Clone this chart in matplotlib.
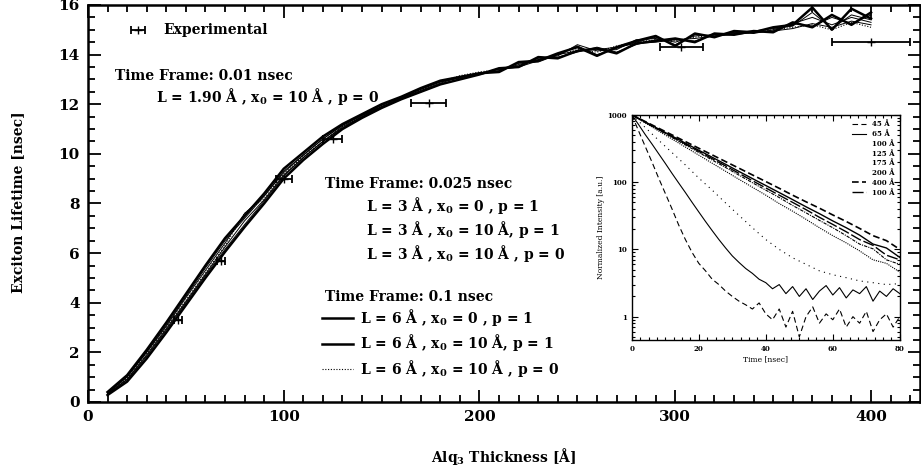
import matplotlib
matplotlib.use("Agg")
import matplotlib.pyplot as plt
from matplotlib.lines import Line2D
from matplotlib.ticker import MultipleLocator, LogLocator, NullFormatter, FixedLocator

plt.rcParams["font.family"] = ["DejaVu Serif"]
plt.rcParams["font.weight"] = "bold"
plt.rcParams["mathtext.fontset"] = "dejavuserif"

# simulated lifetimes vs. thickness (Angstrom -> nsec)
thickness = list(range(10, 401, 10))

tf001_l190 = [0.35, 1.0, 2.0, 3.05, 4.2, 5.3, 6.4, 7.6, 8.3, 9.25, 9.95, 10.6, 11.15, 11.55,
              11.9, 12.25, 12.6, 12.9, 13.1, 13.2, 13.35, 13.6, 13.8, 13.95, 14.4, 14.15,
              14.2, 14.6, 14.65, 14.5, 14.75, 14.8, 14.9, 14.85, 15.0, 15.25, 15.5, 15.2,
              15.5, 15.3]
tf0025_x0_p1 = [0.38, 1.02, 2.02, 3.1, 4.25, 5.4, 6.5, 7.4, 8.3, 9.3, 9.95, 10.6, 11.15,
                11.55, 11.95, 12.3, 12.6, 12.9, 13.05, 13.25, 13.35, 13.65, 13.7, 14.0,
                14.35, 14.0, 14.25, 14.5, 14.7, 14.4, 14.8, 14.75, 14.9, 14.95, 15.05,
                15.15, 15.7, 15.05, 15.6, 15.4]
tf0025_x10_p1 = [0.32, 0.9, 1.85, 2.9, 4.0, 5.1, 6.15, 7.15, 8.1, 9.1, 9.85, 10.5, 11.05,
                 11.5, 11.9, 12.2, 12.5, 12.8, 13.0, 13.2, 13.45, 13.55, 13.85, 13.9, 14.1,
                 14.3, 14.1, 14.4, 14.6, 14.6, 14.55, 14.8, 14.85, 14.9, 14.95, 15.25,
                 15.15, 15.5, 15.25, 15.6]
tf0025_x10_p0 = [0.33, 0.92, 1.9, 2.95, 4.05, 5.15, 6.25, 7.3, 8.15, 9.15, 9.85, 10.5, 11.1,
                 11.5, 11.9, 12.25, 12.55, 12.85, 13.1, 13.25, 13.4, 13.5, 13.75, 14.0,
                 14.15, 14.2, 14.3, 14.45, 14.5, 14.6, 14.65, 14.75, 14.8, 14.9, 14.95,
                 15.05, 15.25, 15.1, 15.35, 15.2]
tf01_x0_p1 = [0.40, 1.08, 2.1, 3.2, 4.35, 5.5, 6.6, 7.5, 8.4, 9.4, 10.05, 10.7, 11.2,
              11.6, 12.0, 12.3, 12.65, 12.95, 13.1, 13.25, 13.3, 13.7, 13.75, 14.05, 14.3,
              13.95, 14.3, 14.55, 14.75, 14.35, 14.85, 14.7, 14.95, 14.9, 15.1, 15.2, 15.9,
              15.0, 15.85, 15.45]
tf01_x10_p1 = [0.28, 0.82, 1.75, 2.8, 3.9, 5.0, 6.05, 7.05, 8.0, 9.0, 9.75, 10.4,
               11.0, 11.45, 11.85, 12.2, 12.5, 12.8, 13.0, 13.2, 13.45, 13.5, 13.9, 13.85,
               14.15, 14.25, 14.05, 14.45, 14.55, 14.65, 14.5, 14.85, 14.8, 14.95, 14.9,
               15.3, 15.1, 15.6, 15.2, 15.7]
tf01_x10_p0 = [0.35, 0.95, 1.95, 3.0, 4.1, 5.2, 6.3, 7.6, 8.2, 9.2, 9.9, 10.5, 11.1, 11.5,
               11.95, 12.25, 12.55, 12.9, 13.15, 13.3, 13.4, 13.55, 13.8, 14.0, 14.2, 14.1,
               14.35, 14.5, 14.6, 14.55, 14.7, 14.8, 14.85, 14.9, 15.0, 15.1, 15.2, 15.0,
               15.3, 15.1]

# measured lifetimes with thickness uncertainty
exp_thickness = [46, 68, 100, 125, 174, 303, 400]
exp_lifetime = [3.3, 5.7, 9.0, 10.6, 12.05, 14.3, 14.5]
exp_thickness_err = [2, 2, 4, 5, 9, 11, 20]

# transient PL decays for the inset
t_fine = list(range(0, 81, 2))
t_coarse = list(range(0, 81, 4))
pl_45 = [1000, 580, 340, 200, 115, 68, 40, 23, 14, 9, 6.2, 4.8, 3.6, 3.0, 2.4, 2.0, 1.7, 1.5,
         1.3, 1.6, 1.1, 0.9, 1.3, 0.7, 1.2, 0.5, 1.0, 1.4, 0.8, 1.1, 0.9, 1.3, 0.7, 1.0, 0.8,
         1.2, 0.6, 0.9, 1.1, 0.7, 1.0]
pl_65 = [1000, 720, 510, 370, 265, 190, 135, 97, 70, 50, 36, 26, 19, 14, 10.5, 8.0, 6.4,
         5.2, 4.4, 3.6, 3.2, 2.6, 3.0, 2.2, 2.8, 2.0, 2.6, 1.8, 2.4, 2.9, 2.1, 2.7, 1.9, 2.5,
         2.2, 2.8, 1.7, 2.4, 2.0, 2.6, 2.2]
pl_100 = [1000, 650, 420, 275, 180, 115, 76, 49, 32, 21, 14, 10, 7.5, 6.0, 4.8, 4.2, 3.8,
          3.4, 3.2, 3.0, 3.1]
pl_125 = [1000, 760, 575, 437, 332, 252, 191, 145, 110, 84, 64, 48, 37, 28, 21, 16, 12.5,
          9.5, 7.0, 6.2, 4.6]
pl_175 = [1000, 773, 597, 462, 357, 276, 213, 165, 127, 98, 76, 59, 45, 35, 27, 21, 16,
          12.0, 10.2, 7.0, 6.0]
pl_200 = [1000, 785, 616, 484, 380, 298, 234, 184, 144, 113, 89, 70, 55, 43, 34, 26.5, 21,
          16.3, 12.0, 10.5, 7.6]
pl_400 = [1000, 796, 633, 504, 401, 319, 254, 202, 161, 128, 102, 81, 64, 51, 41, 32.5, 26,
          20.5, 16.0, 13.5, 10.0]
pl_last = [1000, 779, 607, 472, 368, 287, 223, 174, 135, 105, 82, 64, 50, 39, 30, 23.5,
           18.3, 14.0, 11.5, 8.2, 7.0]
pl_labels = ["45 Å", "65 Å", "100 Å", "125 Å", "175 Å", "200 Å", "400 Å", "100 Å"]

fig = plt.figure(figsize=(9.21, 4.70), dpi=100)
ax = fig.add_axes([0.0955, 0.1447, 0.9034, 0.8447])

thin = dict(color="black", linewidth=0.7)
ax.plot(thickness, tf001_l190, **thin)
ax.plot(thickness, tf0025_x0_p1, **thin)
ax.plot(thickness, tf0025_x10_p1, **thin)
ax.plot(thickness, tf0025_x10_p0, **thin)
h1, = ax.plot(thickness, tf01_x0_p1, color="black", linewidth=1.8)
h2, = ax.plot(thickness, tf01_x10_p1, color="black", linewidth=1.8)
h3, = ax.plot(thickness, tf01_x10_p0, color="black", linewidth=0.8, linestyle=(0, (1, 1.5)))

hexp = ax.errorbar(exp_thickness, exp_lifetime, xerr=exp_thickness_err, fmt="+",
                   color="black", markersize=6, elinewidth=1.3, capsize=3, capthick=1.3)

ax.set_xlim(0, 425)
ax.set_ylim(0, 16)
ax.xaxis.set_major_locator(MultipleLocator(100))
ax.xaxis.set_minor_locator(MultipleLocator(10))
ax.yaxis.set_major_locator(MultipleLocator(2))
ax.yaxis.set_minor_locator(MultipleLocator(0.5))
ax.tick_params(which="both", direction="in", top=True, right=True, width=1.3)
ax.tick_params(which="major", length=9)
ax.tick_params(which="minor", length=5)
ax.tick_params(axis="both", labelsize=11, pad=6)
for spine in ax.spines.values():
    spine.set_linewidth(1.8)

ax.set_xlabel(r"Alq$_\mathbf{3}$ Thickness [Å]", fontsize=10, fontweight="bold")
ax.xaxis.set_label_coords(0.5, -0.11)
fig.text(0.02, 0.57, "Exciton Lifetime [nsec]", rotation=90, ha="center", va="center",
         fontsize=10, fontweight="bold")

leg_exp = ax.legend([hexp], ["Experimental"], loc="upper left", bbox_to_anchor=(0.035, 0.985),
                    frameon=False, fontsize=10, handlelength=1.2, handletextpad=1.2)
ax.add_artist(leg_exp)

txt = dict(fontsize=10, fontweight="bold", va="center", ha="left")
ax.text(14, 13.15, "Time Frame: 0.01 nsec", **txt)
ax.text(35, 12.3, r"L = 1.90 Å , x$_\mathbf{0}$ = 10 Å , p = 0", **txt)

ax.text(121, 8.8, "Time Frame: 0.025 nsec", **txt)
ax.text(142, 7.9, r"L = 3 Å , x$_\mathbf{0}$ = 0 , p = 1", **txt)
ax.text(142, 6.95, r"L = 3 Å , x$_\mathbf{0}$ = 10 Å, p = 1", **txt)
ax.text(142, 6.0, r"L = 3 Å , x$_\mathbf{0}$ = 10 Å , p = 0", **txt)
ax.text(121, 4.25, "Time Frame: 0.1 nsec", **txt)

ax.legend([h1, h2, h3],
          [r"L = 6 Å , x$_\mathbf{0}$ = 0 , p = 1",
           r"L = 6 Å , x$_\mathbf{0}$ = 10 Å, p = 1",
           r"L = 6 Å , x$_\mathbf{0}$ = 10 Å , p = 0"],
          loc="upper left", bbox_to_anchor=(0.27, 0.265), frameon=False, fontsize=10,
          handlelength=2.2, handletextpad=0.5, labelspacing=0.35, borderpad=0.2)

# inset: normalized PL decays
ins = fig.add_axes([0.686, 0.2766, 0.291, 0.479])
p45, = ins.plot(t_fine, pl_45, color="black", linewidth=0.8, linestyle=(0, (5, 3)))
p65, = ins.plot(t_fine, pl_65, color="black", linewidth=0.8)
ins.plot(t_coarse, pl_100, color="black", linewidth=0.8, linestyle=(0, (1, 4)))
ins.plot(t_coarse, pl_125, color="black", linewidth=0.8, linestyle=(0, (1, 1)))
ins.plot(t_coarse, pl_175, color="black", linewidth=0.8, linestyle=(0, (3, 1, 1, 1)))
ins.plot(t_coarse, pl_200, color="black", linewidth=1.0)
p400, = ins.plot(t_coarse, pl_400, color="black", linewidth=1.2, linestyle=(0, (4, 2)))
plast, = ins.plot(t_coarse, pl_last, color="black", linewidth=1.0, linestyle=(0, (8, 2)))
ins.set_yscale("log")
ins.set_xlim(0, 80)
ins.set_ylim(0.45, 1000)
ins.xaxis.set_major_locator(MultipleLocator(20))
ins.xaxis.set_minor_locator(MultipleLocator(2.5))
ins.yaxis.set_major_locator(FixedLocator([1, 10, 100, 1000]))
ins.yaxis.set_minor_locator(LogLocator(base=10, subs=range(2, 10)))
ins.yaxis.set_minor_formatter(NullFormatter())
ins.set_yticklabels(["1", "10", "100", "1000"])
ins.tick_params(which="both", direction="in", top=True, right=True, labelsize=5, width=0.8)
ins.tick_params(which="major", length=4)
ins.tick_params(which="minor", length=2)
for spine in ins.spines.values():
    spine.set_linewidth(1.0)
ins.set_xlabel("Time [nsec]", fontsize=5.5, labelpad=2)
ins.set_ylabel("Normalized Intensity [a.u.]", fontsize=5.5, labelpad=2)

# only some of the legend rows carry a line sample
blank = Line2D([], [], linestyle="none")
ins.legend([p45, p65, blank, blank, blank, blank, p400, plast], pl_labels,
           loc="upper right", frameon=False, fontsize=5, handlelength=2.0,
           labelspacing=0.25, borderpad=0.3)

fig.savefig("out.png", dpi=100)
